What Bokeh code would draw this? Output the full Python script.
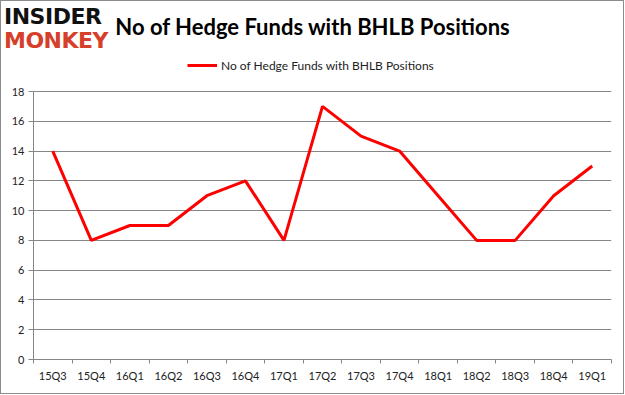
from bokeh.plotting import figure
from bokeh.models import Legend, LegendItem, FixedTicker, Range1d, Div
from bokeh.layouts import column
from bokeh.embed import file_html
from bokeh.resources import INLINE

categories = ["15Q3", "15Q4", "16Q1", "16Q2", "16Q3", "16Q4", "17Q1", "17Q2",
              "17Q3", "17Q4", "18Q1", "18Q2", "18Q3", "18Q4", "19Q1"]
funds = [14, 8, 9, 9, 11, 12, 8, 17, 15, 14, 11, 8, 8, 11, 13]
y_ticks = [0, 2, 4, 6, 8, 10, 12, 14, 16, 18]
series_name = "No of Hedge Funds with BHLB Positions"
title_text = "No of Hedge Funds with BHLB Positions"

FONT = "Lato"
GRID = "#868686"

W = 625
HEAD_H = 44
FIG_H = 395 - HEAD_H
Y_MAX = 18
# room above the top gridline (in data units) that holds the legend
Y_TOP = Y_MAX + (91 - HEAD_H) * Y_MAX / 268.0

header = Div(
    text=(
        '<div style="position:relative;width:%dpx;height:%dpx;">'
        '<div style="position:absolute;left:0px;top:0px;width:624px;height:394px;'
        'box-sizing:border-box;border:1px solid #8c8c8c;z-index:5;pointer-events:none;"></div>'
        '<span style="position:absolute;left:4px;top:1px;font-family:\'DejaVu Sans\';'
        'font-weight:bold;font-size:22px;color:#111111;letter-spacing:-0.5px;">INSIDER</span>'
        '<span style="position:absolute;left:4px;top:25px;font-family:\'DejaVu Sans\';'
        'font-weight:bold;font-size:22px;color:#d6402b;letter-spacing:-0.5px;">MONKEY</span>'
        '<span style="position:absolute;left:0px;top:11px;width:%dpx;text-align:center;'
        'font-family:Lato;font-weight:bold;font-size:22px;color:#000000;'
        'white-space:nowrap;">%s</span>'
        '</div>' % (W, HEAD_H, W, title_text)
    ),
    width=W, height=HEAD_H, margin=0, styles={"overflow": "visible", "z-index": "5"},
)

p = figure(width=W, height=FIG_H, output_backend="svg", toolbar_location=None,
           x_range=Range1d(0, len(categories)), y_range=Range1d(0, Y_TOP),
           min_border_left=33, min_border_right=14, min_border_top=0,
           min_border_bottom=36, margin=0)
p.outline_line_color = None
p.background_fill_color = None
p.border_fill_color = None

xs = [i + 0.5 for i in range(len(categories))]
r = p.line(xs, funds, line_color="#ff0000", line_width=3)

# x axis
p.xaxis.ticker = FixedTicker(ticks=xs, minor_ticks=list(range(len(categories) + 1)))
p.xaxis.major_label_overrides = {x: c for x, c in zip(xs, categories)}
p.xaxis.major_tick_line_color = None
p.xaxis.major_tick_in = 0
p.xaxis.major_tick_out = 0
p.xaxis.minor_tick_in = 0
p.xaxis.minor_tick_out = 4
p.xaxis.minor_tick_line_color = GRID
p.xaxis.axis_line_color = GRID
p.xaxis.major_label_text_font = FONT
p.xaxis.major_label_text_font_size = "11px"
p.xaxis.major_label_text_color = "#222222"
p.xaxis.major_label_standoff = 5
p.xgrid.grid_line_color = None

# y axis
p.yaxis.ticker = FixedTicker(ticks=y_ticks)
p.yaxis.bounds = (0, Y_MAX)
p.yaxis.minor_tick_line_color = None
p.yaxis.major_tick_in = 0
p.yaxis.major_tick_out = 5
p.yaxis.major_tick_line_color = GRID
p.yaxis.axis_line_color = GRID
p.yaxis.major_label_text_font = FONT
p.yaxis.major_label_text_font_size = "11px"
p.yaxis.major_label_text_color = "#222222"
p.yaxis.major_label_standoff = 4
p.ygrid.grid_line_color = GRID
p.ygrid.grid_line_width = 1

legend = Legend(items=[LegendItem(label=series_name, renderers=[r])],
                location=(154, 284), orientation="horizontal",
                label_text_font=FONT, label_text_font_size="12px",
                label_text_color="#222222", border_line_color=None,
                background_fill_alpha=0, glyph_width=30, glyph_height=20,
                label_height=20, label_standoff=4, padding=4, margin=0,
                spacing=0)
p.add_layout(legend)

layout = column(header, p, spacing=0, margin=0)
open("out.html", "w").write(file_html(layout, INLINE))
